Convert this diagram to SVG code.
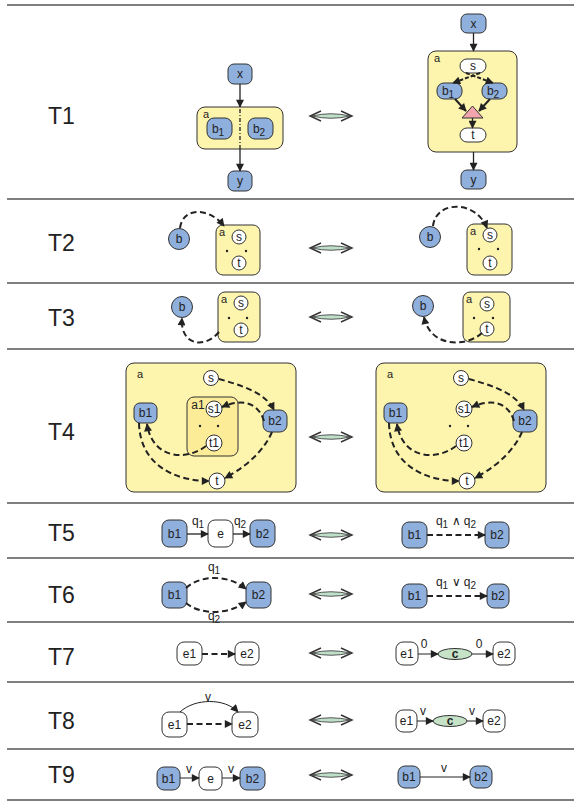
<svg xmlns="http://www.w3.org/2000/svg" xmlns:xlink="http://www.w3.org/1999/xlink" width="574" height="802" viewBox="0 0 574 802">
  <style>
    text { font-family: "Liberation Sans", Arial, sans-serif; fill: #222; }
    .row { font-size: 23px; }
    .lbl { font-size: 12px; text-anchor: middle; }
    .sm { font-size: 11px; }
    .sep { stroke: #555; stroke-width: 1.5; }
    .blue { fill: #8fafdc; stroke: #333; stroke-width: 1; }
    .white { fill: #fff; stroke: #333; stroke-width: 1; }
    .box { fill: #fdf4ae; stroke: #333; stroke-width: 1; }
    .box2 { fill: #fcec98; stroke: #333; stroke-width: 1; }
    .tri { fill: #f3a5ad; stroke: #333; stroke-width: 1; }
    .cnode { fill: #c6e3c8; stroke: #333; stroke-width: 1; }
    .solid { fill: none; stroke: #222; stroke-width: 1.3; marker-end: url(#ah); }
    .thin { fill: none; stroke: #222; stroke-width: 1; marker-end: url(#ah); }
    .dash { fill: none; stroke: #222; stroke-width: 2; stroke-dasharray: 6 3.5; marker-end: url(#ah); }
    .dot { fill: #222; }
  </style>
  <defs>
    <marker id="ah" viewBox="0 0 10 10" refX="9" refY="5" markerUnits="userSpaceOnUse" markerWidth="10" markerHeight="8" orient="auto">
      <path d="M0,0 L10,5 L0,10 Z" fill="#222"/>
    </marker>
    <!-- equivalence double arrow, centred on y=0 -->
    <g id="equiv">
      <path d="M312,0 Q331,-4.5 350,0 Q331,4.5 312,0 Z" fill="#bfe0c8" stroke="#444" stroke-width="0.9"/>
      <path d="M321,-5 L310,0 L321,5 M341,-5 L352,0 L341,5" fill="none" stroke="#333" stroke-width="1.4"/>
    </g>
  </defs>

  <!-- table rules -->
  <g id="rules">
    <line class="sep" x1="7" y1="5" x2="574" y2="5"/>
    <line class="sep" x1="7" y1="199" x2="574" y2="199"/>
    <line class="sep" x1="7" y1="283" x2="574" y2="283"/>
    <line class="sep" x1="7" y1="349" x2="574" y2="349"/>
    <line class="sep" x1="7" y1="503" x2="574" y2="503"/>
    <line class="sep" x1="7" y1="558" x2="574" y2="558"/>
    <line class="sep" x1="7" y1="622" x2="574" y2="622"/>
    <line class="sep" x1="7" y1="682" x2="574" y2="682"/>
    <line class="sep" x1="7" y1="749" x2="574" y2="749"/>
    <line class="sep" x1="7" y1="800" x2="574" y2="800"/>
  </g>

  <!-- row titles -->
  <g id="titles">
    <text class="row" x="48" y="124">T1</text>
    <text class="row" x="48" y="251">T2</text>
    <text class="row" x="48" y="326">T3</text>
    <text class="row" x="48" y="440">T4</text>
    <text class="row" x="48" y="541">T5</text>
    <text class="row" x="48" y="603">T6</text>
    <text class="row" x="48" y="665">T7</text>
    <text class="row" x="48" y="729">T8</text>
    <text class="row" x="48" y="783">T9</text>
  </g>

  <!-- equivalence arrows -->
  <g id="equivalences">
    <use xlink:href="#equiv" transform="translate(0,116)"/>
    <use xlink:href="#equiv" transform="translate(0,248)"/>
    <use xlink:href="#equiv" transform="translate(0,317)"/>
    <use xlink:href="#equiv" transform="translate(0,437)"/>
    <use xlink:href="#equiv" transform="translate(0,535)"/>
    <use xlink:href="#equiv" transform="translate(0,594)"/>
    <use xlink:href="#equiv" transform="translate(0,653)"/>
    <use xlink:href="#equiv" transform="translate(0,720)"/>
    <use xlink:href="#equiv" transform="translate(0,775)"/>
  </g>

  <!-- ===== T1 left ===== -->
  <g id="t1l-a"><rect class="box" x="197" y="107" width="86" height="42" rx="8"/><text class="sm" x="203" y="118">a</text></g>
  <g id="t1l-x"><rect class="blue" x="228" y="64" width="24" height="20" rx="6"/><text class="lbl" x="240" y="78">x</text></g>
  <g id="t1l-b1"><rect class="blue" x="207" y="118" width="25" height="21" rx="7"/><text class="lbl" x="218" y="133">b<tspan font-size="10" dy="3">1</tspan></text></g>
  <g id="t1l-b2"><rect class="blue" x="248" y="118" width="25" height="21" rx="7"/><text class="lbl" x="259" y="133">b<tspan font-size="10" dy="3">2</tspan></text></g>
  <g id="t1l-y"><rect class="blue" x="228" y="171" width="24" height="20" rx="6"/><text class="lbl" x="240" y="185">y</text></g>

  <!-- ===== T1 right ===== -->
  <g id="t1r-a"><rect class="box" x="428" y="51" width="89" height="101" rx="8"/><text class="sm" x="434" y="62">a</text></g>
  <g id="t1r-x"><rect class="blue" x="461" y="14" width="25" height="19" rx="6"/><text class="lbl" x="473.5" y="28">x</text></g>
  <g id="t1r-s"><rect class="white" x="460" y="59" width="26" height="14" rx="7"/><text class="lbl" x="473" y="70">s</text></g>
  <g id="t1r-b1"><rect class="blue" x="437" y="83" width="25" height="16" rx="7"/><text class="lbl" x="448" y="95">b<tspan font-size="10" dy="3">1</tspan></text></g>
  <g id="t1r-b2"><rect class="blue" x="482" y="83" width="25" height="16" rx="7"/><text class="lbl" x="493" y="95">b<tspan font-size="10" dy="3">2</tspan></text></g>
  <g id="t1r-join"><path class="tri" d="M472.5,106 L462,118 L483,118 Z"/></g>
  <g id="t1r-t"><rect class="white" x="460" y="128" width="26" height="14" rx="7"/><text class="lbl" x="473" y="139">t</text></g>
  <g id="t1r-y"><rect class="blue" x="461" y="170" width="25" height="19" rx="6"/><text class="lbl" x="473.5" y="184">y</text></g>

  <!-- ===== T2 ===== -->
  <g id="t2l-b"><circle class="blue" cx="179" cy="239" r="10.5"/><text class="lbl" x="179" y="243">b</text></g>
  <g id="t2l-a">
    <rect class="box" x="216" y="225" width="44" height="50" rx="7"/><text class="sm" x="219" y="236">a</text>
    <circle class="white" cx="239" cy="237" r="7"/><text class="lbl" x="239" y="241">s</text>
    <circle class="dot" cx="227" cy="251" r="1.2"/><circle class="dot" cx="246" cy="251" r="1.2"/>
    <circle class="white" cx="239" cy="263" r="7"/><text class="lbl" x="239" y="267">t</text>
  </g>
  <g id="t2r-b"><circle class="blue" cx="430" cy="237" r="10.5"/><text class="lbl" x="430" y="241">b</text></g>
  <g id="t2r-a">
    <rect class="box" x="467" y="224" width="45" height="51" rx="7"/><text class="sm" x="470" y="235">a</text>
    <circle class="white" cx="490" cy="235" r="7"/><text class="lbl" x="490" y="239">s</text>
    <circle class="dot" cx="479" cy="249" r="1.2"/><circle class="dot" cx="498" cy="249" r="1.2"/>
    <circle class="white" cx="490" cy="263" r="7"/><text class="lbl" x="490" y="267">t</text>
  </g>

  <!-- ===== T3 ===== -->
  <g id="t3l-b"><circle class="blue" cx="182" cy="307" r="10.5"/><text class="lbl" x="182" y="311">b</text></g>
  <g id="t3l-a">
    <rect class="box" x="218" y="292" width="42" height="50" rx="7"/><text class="sm" x="221" y="303">a</text>
    <circle class="white" cx="241" cy="303" r="7"/><text class="lbl" x="241" y="307">s</text>
    <circle class="dot" cx="229" cy="318" r="1.2"/><circle class="dot" cx="247" cy="318" r="1.2"/>
    <circle class="white" cx="241" cy="330" r="7"/><text class="lbl" x="241" y="334">t</text>
  </g>
  <g id="t3r-b"><circle class="blue" cx="423" cy="306" r="10.5"/><text class="lbl" x="423" y="310">b</text></g>
  <g id="t3r-a">
    <rect class="box" x="463" y="292" width="47" height="50" rx="7"/><text class="sm" x="466" y="303">a</text>
    <circle class="white" cx="487" cy="304" r="7"/><text class="lbl" x="487" y="308">s</text>
    <circle class="dot" cx="474" cy="318" r="1.2"/><circle class="dot" cx="493" cy="318" r="1.2"/>
    <circle class="white" cx="487" cy="329" r="7"/><text class="lbl" x="487" y="333">t</text>
  </g>

  <!-- ===== T4 left ===== -->
  <g id="t4l-a"><rect class="box" x="126" y="363" width="170" height="129" rx="8"/><text class="sm" x="137" y="378">a</text></g>
  <g id="t4l-a1"><rect class="box2" x="187" y="397" width="51" height="59" rx="7"/><text class="lbl" x="198" y="409">a1</text></g>
  <g id="t4l-s"><circle class="white" cx="211" cy="378" r="7.5"/><text class="lbl" x="211" y="382">s</text></g>
  <g id="t4l-s1"><circle class="white" cx="214" cy="409" r="8"/><text class="lbl" x="214" y="413">s1</text></g>
  <g id="t4l-dots"><circle class="dot" cx="200" cy="426" r="1.2"/><circle class="dot" cx="218" cy="426" r="1.2"/></g>
  <g id="t4l-t1"><circle class="white" cx="214" cy="443" r="8"/><text class="lbl" x="214" y="447">t1</text></g>
  <g id="t4l-b1"><rect class="blue" x="134" y="403" width="23" height="20" rx="6"/><text class="lbl" x="145.5" y="417">b1</text></g>
  <g id="t4l-b2"><rect class="blue" x="263" y="410" width="24" height="22" rx="7"/><text class="lbl" x="275" y="425">b2</text></g>
  <g id="t4l-t"><circle class="white" cx="217" cy="481" r="8"/><text class="lbl" x="217" y="485">t</text></g>

  <!-- ===== T4 right ===== -->
  <g id="t4r-a"><rect class="box" x="376" y="363" width="170" height="129" rx="8"/><text class="sm" x="387" y="378">a</text></g>
  <g id="t4r-s"><circle class="white" cx="461" cy="378" r="7.5"/><text class="lbl" x="461" y="382">s</text></g>
  <g id="t4r-s1"><circle class="white" cx="464" cy="409" r="8"/><text class="lbl" x="464" y="413">s1</text></g>
  <g id="t4r-dots"><circle class="dot" cx="450" cy="426" r="1.2"/><circle class="dot" cx="468" cy="426" r="1.2"/></g>
  <g id="t4r-t1"><circle class="white" cx="464" cy="443" r="8"/><text class="lbl" x="464" y="447">t1</text></g>
  <g id="t4r-b1"><rect class="blue" x="384" y="403" width="23" height="20" rx="6"/><text class="lbl" x="395.5" y="417">b1</text></g>
  <g id="t4r-b2"><rect class="blue" x="513" y="410" width="24" height="22" rx="7"/><text class="lbl" x="525" y="425">b2</text></g>
  <g id="t4r-t"><circle class="white" cx="467" cy="481" r="8"/><text class="lbl" x="467" y="485">t</text></g>

  <!-- ===== T5 ===== -->
  <g id="t5l-b1"><rect class="blue" x="162" y="520" width="25" height="27" rx="7"/><text class="lbl" x="174.5" y="538">b1</text></g>
  <g id="t5l-e"><rect class="white" x="208" y="520" width="25" height="27" rx="7"/><text class="lbl" x="220.5" y="538">e</text></g>
  <g id="t5l-b2"><rect class="blue" x="250" y="520" width="25" height="27" rx="7"/><text class="lbl" x="262.5" y="538">b2</text></g>
  <g id="t5r-b1"><rect class="blue" x="402" y="522" width="25" height="26" rx="7"/><text class="lbl" x="414.5" y="539">b1</text></g>
  <g id="t5r-b2"><rect class="blue" x="485" y="522" width="24" height="26" rx="7"/><text class="lbl" x="497" y="539">b2</text></g>

  <!-- ===== T6 ===== -->
  <g id="t6l-b1"><rect class="blue" x="162" y="582" width="25" height="26" rx="7"/><text class="lbl" x="174.5" y="599">b1</text></g>
  <g id="t6l-b2"><rect class="blue" x="246" y="582" width="25" height="26" rx="7"/><text class="lbl" x="258.5" y="599">b2</text></g>
  <g id="t6r-b1"><rect class="blue" x="402" y="584" width="25" height="24" rx="7"/><text class="lbl" x="414.5" y="600">b1</text></g>
  <g id="t6r-b2"><rect class="blue" x="487" y="584" width="22" height="24" rx="7"/><text class="lbl" x="498" y="600">b2</text></g>

  <!-- ===== T7 ===== -->
  <g id="t7l-e1"><rect class="white" x="177" y="642" width="25" height="23" rx="7"/><text class="lbl" x="189.5" y="658">e1</text></g>
  <g id="t7l-e2"><rect class="white" x="235" y="642" width="24" height="23" rx="7"/><text class="lbl" x="247" y="658">e2</text></g>
  <g id="t7r-e1"><rect class="white" x="396" y="642" width="22" height="23" rx="7"/><text class="lbl" x="407" y="658">e1</text></g>
  <g id="t7r-c"><ellipse class="cnode" cx="455" cy="654" rx="17" ry="5.5"/><text class="lbl" x="455" y="658" font-weight="bold">c</text></g>
  <g id="t7r-e2"><rect class="white" x="493" y="642" width="22" height="23" rx="7"/><text class="lbl" x="504" y="658">e2</text></g>

  <!-- ===== T8 ===== -->
  <g id="t8l-e1"><rect class="white" x="162" y="712" width="25" height="25" rx="7"/><text class="lbl" x="174.5" y="729">e1</text></g>
  <g id="t8l-e2"><rect class="white" x="232" y="712" width="26" height="25" rx="7"/><text class="lbl" x="245" y="729">e2</text></g>
  <g id="t8r-e1"><rect class="white" x="396" y="710" width="21" height="22" rx="7"/><text class="lbl" x="406.5" y="725">e1</text></g>
  <g id="t8r-c"><ellipse class="cnode" cx="450" cy="721" rx="17" ry="5.5"/><text class="lbl" x="450" y="725" font-weight="bold">c</text></g>
  <g id="t8r-e2"><rect class="white" x="483" y="710" width="22" height="22" rx="7"/><text class="lbl" x="494" y="725">e2</text></g>

  <!-- ===== T9 ===== -->
  <g id="t9l-b1"><rect class="blue" x="157" y="767" width="23" height="23" rx="7"/><text class="lbl" x="168.5" y="783">b1</text></g>
  <g id="t9l-e"><rect class="white" x="199" y="767" width="23" height="23" rx="7"/><text class="lbl" x="210.5" y="783">e</text></g>
  <g id="t9l-b2"><rect class="blue" x="240" y="767" width="25" height="23" rx="7"/><text class="lbl" x="252.5" y="783">b2</text></g>
  <g id="t9r-b1"><rect class="blue" x="398" y="766" width="22" height="22" rx="7"/><text class="lbl" x="409" y="781">b1</text></g>
  <g id="t9r-b2"><rect class="blue" x="470" y="766" width="22" height="22" rx="7"/><text class="lbl" x="481" y="781">b2</text></g>

  <!-- connectors -->
  <g id="connectors">
    <!-- T1 left -->
    <path class="solid" d="M240,84 L240,107"/>
    <path d="M240,109 L240,149" fill="none" stroke="#222" stroke-width="1.3" stroke-dasharray="4 2 1 2"/>
    <path class="solid" d="M240,149 L240,171"/>
    <!-- T1 right -->
    <path class="solid" d="M473.5,33 L473.5,51"/>
    <path class="dash" d="M480,73 L453,83" style="stroke-dasharray:4 2"/>
    <path class="dash" d="M466,73 L493,83" style="stroke-dasharray:4 2"/>
    <path class="solid" d="M455,99 L466,111" style="stroke-width:2"/>
    <path class="solid" d="M490,99 L479,111" style="stroke-width:2"/>
    <path class="solid" d="M472.5,118 L472.5,128"/>
    <path class="solid" d="M473.5,152 L473.5,170"/>
    <!-- T2 -->
    <path class="dash" d="M180,228 C183,206 210,208 224,226"/>
    <path class="dash" d="M433,226 C436,200 476,200 487,228"/>
    <!-- T3 -->
    <path class="dash" d="M219,332 C205,349 180,346 182,318"/>
    <path class="dash" d="M482,333 C465,348 430,347 424,317"/>
    <!-- T4 left -->
    <path class="dash" d="M219,379 C240,385 265,392 274,410"/>
    <path class="dash" d="M264,421 C258,401 240,399 222,407"/>
    <path class="dash" d="M206,446 C185,462 152,458 147,424"/>
    <path class="dash" d="M139,423 C140,465 175,481 209,481"/>
    <path class="dash" d="M272,432 C262,455 240,470 225,478"/>
    <!-- T4 right -->
    <path class="dash" d="M469,379 C490,385 515,392 524,410"/>
    <path class="dash" d="M514,421 C508,401 490,399 472,407"/>
    <path class="dash" d="M456,446 C435,462 402,458 397,424"/>
    <path class="dash" d="M389,423 C390,465 425,481 459,481"/>
    <path class="dash" d="M522,432 C512,455 490,470 475,478"/>
    <!-- T5 -->
    <path class="solid" d="M187,534 L208,534"/>
    <path class="solid" d="M233,534 L250,534"/>
    <path class="dash" d="M427,535 L485,535"/>
    <!-- T6 -->
    <path class="dash" d="M186,588 C200,575 228,574 246,589"/>
    <path class="dash" d="M186,603 C200,615 228,615 246,602"/>
    <path class="dash" d="M427,596 L487,596"/>
    <!-- T7 -->
    <path class="dash" d="M202,654 L235,654"/>
    <path class="thin" d="M418,654 L438,654"/>
    <path class="thin" d="M472,654 L493,654"/>
    <!-- T8 -->
    <path class="thin" d="M180,712 C195,698 225,698 238,712"/>
    <path class="dash" d="M187,724 L232,724"/>
    <path class="thin" d="M417,721 L433,721"/>
    <path class="thin" d="M467,721 L483,721"/>
    <!-- T9 -->
    <path class="thin" d="M180,778 L199,778"/>
    <path class="thin" d="M222,778 L240,778"/>
    <path class="thin" d="M420,777 L470,777"/>
  </g>

  <!-- connector labels -->
  <g id="edge-labels">
    <text class="lbl" x="198" y="525">q<tspan font-size="10" dy="3">1</tspan></text>
    <text class="lbl" x="240" y="525">q<tspan font-size="10" dy="3">2</tspan></text>
    <text class="lbl" x="456" y="525">q<tspan font-size="10" dy="3">1</tspan><tspan dy="-3"> ∧ q</tspan><tspan font-size="10" dy="3">2</tspan></text>
    <text class="lbl" x="214" y="571">q<tspan font-size="10" dy="3">1</tspan></text>
    <text class="lbl" x="214" y="620">q<tspan font-size="10" dy="3">2</tspan></text>
    <text class="lbl" x="456" y="586">q<tspan font-size="10" dy="3">1</tspan><tspan dy="-3"> ∨ q</tspan><tspan font-size="10" dy="3">2</tspan></text>
    <text class="lbl" x="424" y="648">0</text>
    <text class="lbl" x="479" y="648">0</text>
    <text class="lbl" x="208" y="701">v</text>
    <text class="lbl" x="423" y="715">v</text>
    <text class="lbl" x="472" y="715">v</text>
    <text class="lbl" x="189" y="773">v</text>
    <text class="lbl" x="231" y="773">v</text>
    <text class="lbl" x="444" y="772">v</text>
  </g>
</svg>
